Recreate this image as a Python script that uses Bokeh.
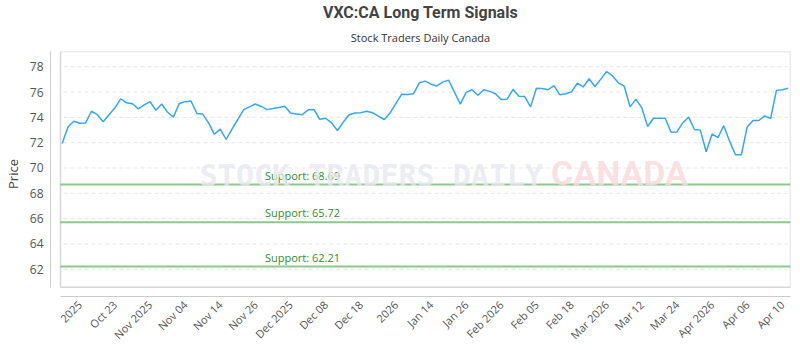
import math
from bokeh.plotting import figure
from bokeh.models import FixedTicker, Range1d, BoxAnnotation, Title, Label, ColumnDataSource
from bokeh.embed import file_html
from bokeh.resources import INLINE
from bokeh.core.properties import value

# ---------------- data ----------------
title_text = "VXC:CA Long Term Signals"
subtitle_text = "Stock Traders Daily Canada"
y_label = "Price"

prices = [
    71.93, 73.26, 73.69, 73.53, 73.56, 74.48, 74.21, 73.66, 74.21, 74.75,
    75.46, 75.15, 75.07, 74.67, 74.99, 75.24, 74.56, 75.05, 74.40, 74.02,
    75.10, 75.24, 75.29, 74.31, 74.26, 73.56, 72.66, 73.07, 72.25, 73.07,
    73.83, 74.61, 74.83, 75.05, 74.86, 74.61, 74.69, 74.78, 74.88, 74.34,
    74.26, 74.21, 74.59, 74.61, 73.85, 73.93, 73.56, 72.96, 73.61, 74.21,
    74.34, 74.37, 74.48, 74.37, 74.10, 73.83, 74.34, 75.10, 75.83, 75.80,
    75.86, 76.73, 76.86, 76.62, 76.48, 76.78, 76.94, 75.99, 75.05, 75.97,
    76.18, 75.75, 76.18, 76.05, 75.86, 75.40, 75.43, 76.21, 75.67, 75.64,
    74.83, 76.29, 76.27, 76.18, 76.51, 75.78, 75.86, 76.02, 76.70, 76.40,
    77.05, 76.43, 77.02, 77.62, 77.27, 76.73, 76.46, 74.83, 75.44, 74.75,
    73.28, 73.93, 73.93, 73.93, 72.82, 72.85, 73.56, 74.02, 73.04, 72.99,
    71.28, 72.69, 72.39, 73.34, 72.12, 71.04, 71.04, 73.23, 73.75, 73.75,
    74.12, 73.91, 76.13, 76.18, 76.29,
]

tick_index = [3, 9, 15, 21, 27, 33, 39, 45, 51, 57, 63, 69, 75, 81, 87, 93, 99, 105, 111, 117, 123]
tick_labels = ["2025", "Oct 23", "Nov 2025", "Nov 04", "Nov 14", "Nov 26", "Dec 2025",
               "Dec 08", "Dec 18", "2026", "Jan 14", "Jan 26", "Feb 2026", "Feb 05",
               "Feb 18", "Mar 2026", "Mar 12", "Mar 24", "Apr 2026", "Apr 06", "Apr 10"]

support_levels = [68.69, 65.72, 62.21]
support_labels = ["Support: %.2f" % s for s in support_levels]

y_ticks = [62, 64, 66, 68, 70, 72, 74, 76, 78]

# ---------------- layout constants ----------------
inner_left, inner_right = -0.29, 124.4
inner_bottom, inner_top = 60.58, 79.2
outer_left, outer_bottom = -2.0, 59.85
support_label_x = inner_left + 0.28 * (inner_right - inner_left)

FONT = "Open Sans"

p = figure(width=800, height=350, output_backend="svg", toolbar_location=None,
           x_range=Range1d(outer_left, inner_right), y_range=Range1d(outer_bottom, inner_top),
           min_border_left=50, min_border_right=10, min_border_bottom=54, min_border_top=10,
           background_fill_color="white", border_fill_color="white")
p.outline_line_color = None
p.xgrid.visible = False
p.ygrid.visible = False

# titles (added outward: subtitle first, then main title)
sub = Title(text=subtitle_text, align="center", text_font=FONT, text_font_size="11px",
            text_font_style="normal", text_color="#333333", standoff=13)
p.add_layout(sub, "above")
main = Title(text=title_text, align="center", text_font="Roboto", text_font_size="16px",
             text_font_style="bold", text_color="#444444", standoff=0)
p.add_layout(main, "above")

# watermark
p.add_layout(Label(x=23.5, y=68.0, text="STOCK TRADERS DAILY", text_font="DejaVu Sans Mono",
                   text_font_style="bold", text_font_size="30px", text_color="#e6e9f0",
                   text_alpha=0.8))
p.add_layout(Label(x=83.5, y=68.0, text="CANADA", text_font="Roboto",
                   text_font_style="bold", text_font_size="34px", text_color="#f9dcdc",
                   text_alpha=0.85))

# grid lines (dashed) within inner box
grid_src = ColumnDataSource(dict(y=y_ticks, x0=[inner_left + 0.5] * len(y_ticks),
                                 x1=[inner_right - 0.5] * len(y_ticks)))
p.segment(x0="x0", x1="x1", y0="y", y1="y", source=grid_src, line_color="#e6e6e6",
          line_width=1, line_dash="4 3")

# support lines
sup_src = ColumnDataSource(dict(y=support_levels, label=support_labels,
                                x0=[inner_left] * len(support_levels),
                                x1=[inner_right] * len(support_levels),
                                lx=[support_label_x] * len(support_levels)))
p.segment(x0="x0", x1="x1", y0="y", y1="y", source=sup_src, line_color="#8cc98c", line_width=2)
p.text(x="lx", y="y", text="label", source=sup_src, text_font=value(FONT),
       text_font_size="11px", text_color="#2e8b2e", text_baseline="bottom", y_offset=-2)

# price line
src = ColumnDataSource(dict(x=list(range(len(prices))), y=prices))
p.line("x", "y", source=src, line_color="#35a7f5", line_width=1.5)

# inner box
p.add_layout(BoxAnnotation(left=inner_left, right=inner_right, bottom=inner_bottom, top=inner_top,
                           fill_alpha=0, line_color="#7a7a7a", line_width=1.5))

# axes
xa = p.xaxis[0]
xa.ticker = FixedTicker(ticks=tick_index)
xa.major_label_overrides = {i: l for i, l in zip(tick_index, tick_labels)}
xa.major_label_orientation = math.pi / 4
xa.bounds = (inner_left, inner_right)
xa.axis_line_color = "#cccccc"
xa.major_tick_line_color = None
xa.minor_tick_line_color = None
xa.major_tick_out = 0
xa.major_tick_in = 0
xa.minor_tick_out = 0
xa.minor_tick_in = 0
xa.major_label_text_font = FONT
xa.major_label_text_font_size = "11px"
xa.major_label_text_color = "#555555"
xa.major_label_standoff = 6

ya = p.yaxis[0]
ya.ticker = FixedTicker(ticks=y_ticks)
ya.bounds = (inner_bottom, inner_top)
ya.axis_line_color = "#cccccc"
ya.major_tick_line_color = None
ya.minor_tick_line_color = None
ya.major_tick_out = 0
ya.major_tick_in = 0
ya.minor_tick_out = 0
ya.minor_tick_in = 0
ya.major_label_text_font = FONT
ya.major_label_text_font_size = "12px"
ya.major_label_text_color = "#555555"
ya.major_label_standoff = 7
ya.axis_label = y_label
ya.axis_label_text_font = FONT
ya.axis_label_text_font_size = "13px"
ya.axis_label_text_font_style = "normal"
ya.axis_label_text_color = "#444444"
ya.axis_label_standoff = 5

open("out.html", "w").write(file_html(p, INLINE))
